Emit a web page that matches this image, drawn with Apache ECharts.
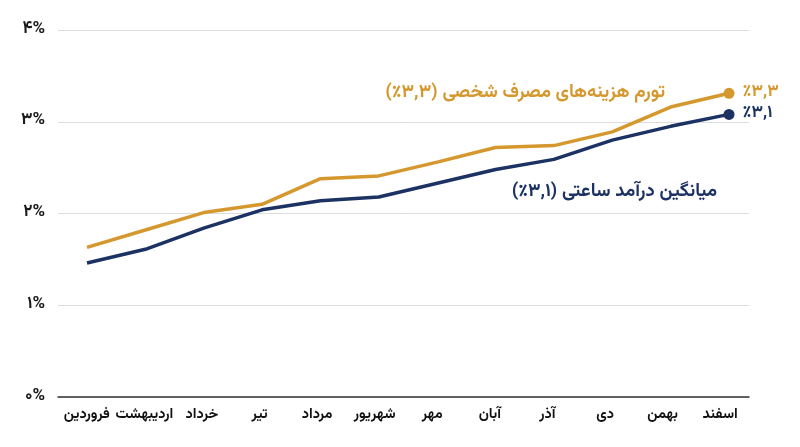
<!DOCTYPE html>
<html>
<head>
<meta charset="utf-8">
<script src="https://cdn.jsdelivr.net/npm/echarts@6/dist/echarts.min.js"></script>
<style>
html,body{margin:0;padding:0;background:#fff;}
#chart{width:800px;height:447px;}
</style>
</head>
<body>
<div id="chart"></div>
<script>
var categories = ["فروردین","اردیبهشت","خرداد","تیر","مرداد","شهریور","مهر","آبان","آذر","دی","بهمن","اسفند"];
var yTickLabels = ["۰%","۱%","۲%","۳%","۴%"];
var pceInflation = [1.63,1.82,2.01,2.10,2.38,2.41,2.56,2.72,2.74,2.89,3.16,3.31];
var hourlyEarnings = [1.46,1.61,1.84,2.04,2.14,2.18,2.33,2.48,2.59,2.80,2.95,3.08];
var pceName = "تورم هزینه‌های مصرف شخصی (٣,٣٪)";
var earnName = "میانگین درآمد ساعتی (٣,١٪)";
var pceEnd = "٣,٣٪";
var earnEnd = "٣,١٪";

var ORANGE = "#D5982E";
var NAVY = "#1B3263";
var FONT = "Vazirmatn, 'Noto Sans Arabic', 'DejaVu Sans', sans-serif";
var RLE = "\u202B", PDF = "\u202C";

var chart = echarts.init(document.getElementById('chart'));
chart.setOption({
  backgroundColor: '#fff',
  animation: false,
  grid: [
    {left: 58, right: 51, top: 30, bottom: 50},
    {left: 87, right: 71, top: 30, bottom: 50}
  ],
  xAxis: [
    {
      type: 'category', gridIndex: 0, data: categories, boundaryGap: true,
      axisLine: {show: true, lineStyle: {color: '#333', width: 1.5}},
      axisTick: {show: false},
      axisLabel: {
        interval: 0, margin: 11, color: '#111', fontSize: 14.5, fontWeight: 'bold', fontFamily: FONT,
        hideOverlap: false
      },
      splitLine: {show: false}
    },
    {
      type: 'category', gridIndex: 1, data: categories, boundaryGap: false, show: false
    }
  ],
  yAxis: [
    {
      type: 'value', gridIndex: 0, min: 0, max: 4, interval: 1,
      axisLine: {show: false}, axisTick: {show: false},
      axisLabel: {
        margin: 13, color: '#1a1a1a', fontSize: 17, fontWeight: 'bold', fontFamily: FONT,
        formatter: function (v) { return yTickLabels[Math.round(v)]; }
      },
      splitLine: {lineStyle: {color: '#dcdcdc', width: 1}}
    },
    {
      type: 'value', gridIndex: 1, min: 0, max: 4, interval: 1, show: false,
      splitLine: {show: false}
    }
  ],
  series: [
    {
      type: 'line', name: pceName, xAxisIndex: 1, yAxisIndex: 1,
      data: pceInflation.map(function (v, i) {
        return i === pceInflation.length - 1 ? {value: v, symbol: 'circle', symbolSize: 11,
          label: {show: true, position: 'right', distance: 8, color: ORANGE, fontSize: 17, fontWeight: 'bold', fontFamily: FONT,
            formatter: function () { return RLE + pceEnd + PDF; }}} : v;
      }),
      showSymbol: true, symbol: 'none',
      lineStyle: {color: ORANGE, width: 3.5},
      itemStyle: {color: ORANGE}
    },
    {
      type: 'line', name: earnName, xAxisIndex: 1, yAxisIndex: 1,
      data: hourlyEarnings.map(function (v, i) {
        return i === hourlyEarnings.length - 1 ? {value: v, symbol: 'circle', symbolSize: 11,
          label: {show: true, position: 'right', distance: 8, color: NAVY, fontSize: 17, fontWeight: 'bold', fontFamily: FONT,
            formatter: function () { return RLE + earnEnd + PDF; }}} : v;
      }),
      showSymbol: true, symbol: 'none',
      lineStyle: {color: NAVY, width: 3.5},
      itemStyle: {color: NAVY}
    }
  ],
  graphic: [
    {type: 'text', x: 665, y: 94, style: {text: RLE + pceName + PDF, fill: ORANGE, font: 'bold 18.5px ' + FONT, align: 'right', verticalAlign: 'middle'}},
    {type: 'text', x: 717, y: 193, style: {text: RLE + earnName + PDF, fill: NAVY, font: 'bold 18.5px ' + FONT, align: 'right', verticalAlign: 'middle'}}
  ]
});
</script>
</body>
</html>
